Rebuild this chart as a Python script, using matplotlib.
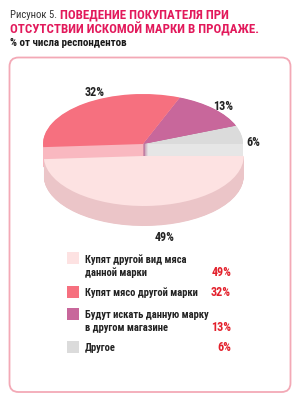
import matplotlib
matplotlib.use('Agg')
import matplotlib.pyplot as plt
from matplotlib.patches import FancyBboxPatch, Rectangle
from matplotlib import font_manager

fl = font_manager.fontManager.ttflist
names = {f.name for f in fl}
FONT = dict(family='Liberation Sans')
for cand in ['Liberation Sans Narrow', 'Roboto Condensed', 'Open Sans Condensed',
             'Noto Sans Condensed', 'Arial Narrow']:
    if cand in names:
        FONT = dict(family=cand)
        break
else:
    if any(f.name == 'DejaVu Sans' and f.stretch == 'condensed' for f in fl):
        FONT = dict(family='DejaVu Sans', stretch='condensed')

# ---- data ----
categories = ['Купят другой вид мяса\nданной марки',
              'Купят мясо другой марки',
              'Будут искать данную марку\nв другом магазине',
              'Другое']
values = [49, 32, 13, 6]
pct_labels = [f'{v}%' for v in values]
title_prefix = 'Рисунок 5.'
title_lines = ['ПОВЕДЕНИЕ ПОКУПАТЕЛЯ ПРИ', 'ОТСУТСТВИИ ИСКОМОЙ МАРКИ В ПРОДАЖЕ.']
subtitle = '% от числа респондентов'

top_colors = ['#fde2e2', '#f6707f', '#c8679b', '#dbdbdb']
side_colors = ['#ebc5c8', '#f9b8c0', '#b0588a', '#e6e6e6']

fig = plt.figure(figsize=(3.0, 4.02), dpi=100)
renderer = fig.canvas.get_renderer()
bg = fig.add_axes([0, 0, 1, 1])
bg.set_xlim(0, 300)
bg.set_ylim(402, 0)
bg.axis('off')


def fit_size(s, width, size, **kw):
    t = bg.text(0, 0, s, fontsize=size, **FONT, **kw)
    w = t.get_window_extent(renderer).width
    t.remove()
    return size * width / w


def text(x, y, s, size, **kw):
    return bg.text(x, y, s, fontsize=size, va='baseline', **FONT, **kw)


bg.add_patch(FancyBboxPatch((9.5, 58.5), 281, 334.5,
                            boxstyle='round,pad=0,rounding_size=9',
                            fc='white', ec='#f3a9b6', lw=1.3))

crimson = '#e2195b'
title_size = fit_size(title_lines[1], 248, 10, weight='bold')
text(10, 18, title_prefix, fit_size(title_prefix, 47, 8.5), color='#333333')
text(60, 18, title_lines[0], title_size, weight='bold', color=crimson)
text(10, 33, title_lines[1], title_size, weight='bold', color=crimson)
text(10, 46, subtitle, fit_size(subtitle, 118, 7, weight='bold'),
     weight='bold', color='#1a1a1a')

# ---- 3D pie ----
ax = fig.add_axes([18 / 300, 1 - 240 / 402, 250 / 300, 160 / 402])
ax.patch.set_alpha(0)
order = [3, 2, 1, 0]  # counter-clockwise from 0 deg: 6, 13, 32, 49
vals = [values[i] for i in order]
tops = [top_colors[i] for i in order]
sides = [side_colors[i] for i in order]
front = 3  # index of the 49% slice in vals

depth = 0.4
expl = 0.24
n = 40
wp = dict(linewidth=0, antialiased=True)

back_side = [c if i != front else 'none' for i, c in enumerate(sides)]
back_top = [c if i != front else 'none' for i, c in enumerate(tops)]
front_side = [c if i == front else 'none' for i, c in enumerate(sides)]
front_top = [c if i == front else 'none' for i, c in enumerate(tops)]
explode = [expl if i == front else 0 for i in range(len(vals))]

for k in range(n):
    d = depth * (n - k) / n
    ax.pie(vals, startangle=0, counterclock=True, colors=back_side,
           center=(0, -d), wedgeprops=wp)
ax.pie(vals, startangle=0, counterclock=True, colors=back_top, wedgeprops=wp)
for k in range(n):
    d = depth * (n - k) / n
    ax.pie(vals, startangle=0, counterclock=True, colors=front_side,
           center=(0, -d), explode=explode, wedgeprops=wp)
ax.pie(vals, startangle=0, counterclock=True, colors=front_top,
       explode=explode, wedgeprops=wp)

ax.set_aspect('auto')
ax.set_xlim(-1.25, 1.25)
ax.set_ylim(-1.9, 1.3)
ax.axis('off')

# pie labels (pixel positions)
pct_size = fit_size('32%', 20, 7.5, weight='bold')
label_pos = {'49%': (165, 241.5), '32%': (95, 95.5), '13%': (223, 110.5), '6%': (253, 146.5)}
for lab in pct_labels:
    x, y = label_pos[lab]
    text(x, y, lab, pct_size, weight='bold', color='#222222', ha='center', zorder=5)

# ---- legend ----
leg_size = fit_size(categories[1], 112, 7.5, weight='bold')
sq_tops = [253, 287, 309, 342]
first_base = [263.5, 296.5, 318.5, 351.5]
red = '#e3202b'
for i, cat in enumerate(categories):
    bg.add_patch(Rectangle((67, sq_tops[i]), 12, 12, fc=top_colors[i], ec='none'))
    lines = cat.split('\n')
    for j, ln in enumerate(lines):
        text(85, first_base[i] + 12.5 * j, ln, leg_size, weight='bold', color='#222222')
    text(231, first_base[i] + 12.5 * (len(lines) - 1), pct_labels[i], pct_size,
         weight='bold', color=red, ha='right')

fig.savefig('out.png', dpi=100)
